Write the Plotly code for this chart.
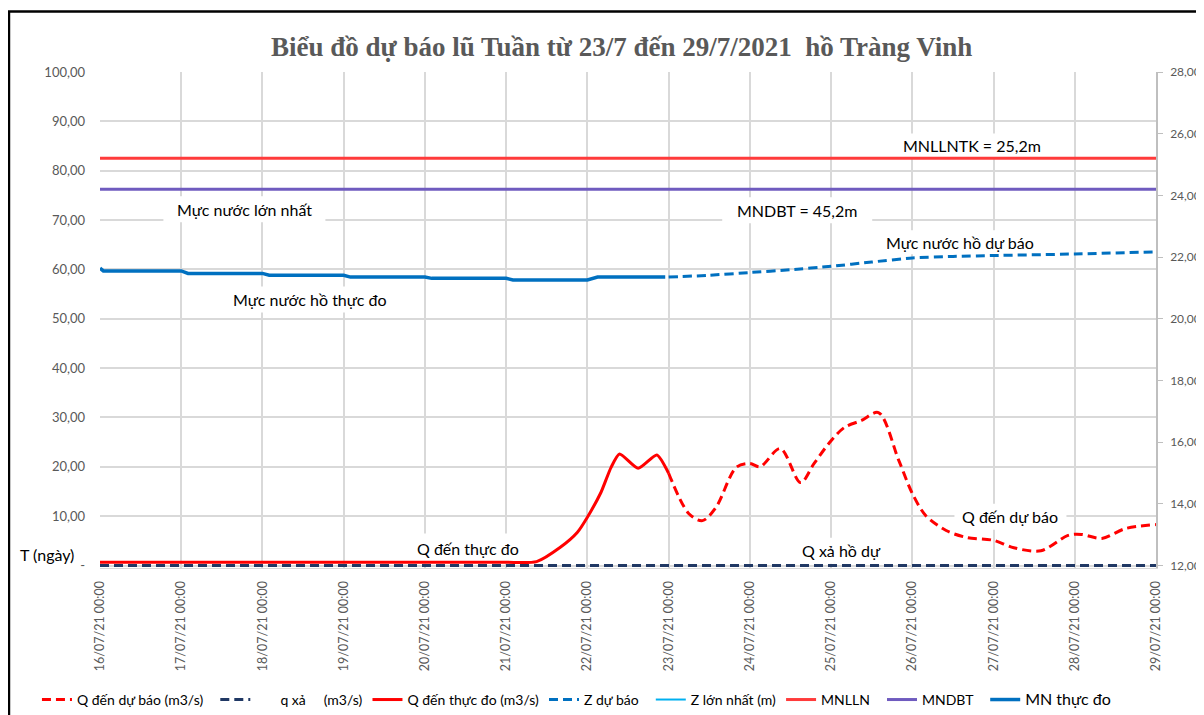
import plotly.graph_objects as go

# ---------------- data ----------------
# Q đến thực đo (m3/s) - left axis
q_obs_time = ["2021-07-16 00:00", "2021-07-17 00:00", "2021-07-18 00:00", "2021-07-19 00:00",
              "2021-07-20 00:00", "2021-07-21 00:00", "2021-07-21 09:00", "2021-07-21 16:00",
              "2021-07-21 21:00", "2021-07-22 00:00", "2021-07-22 04:00", "2021-07-22 07:00",
              "2021-07-22 09:30", "2021-07-22 15:00", "2021-07-22 20:30", "2021-07-23 00:00"]
q_obs_val = [0.65, 0.65, 0.65, 0.65, 0.65, 0.65, 0.8, 3.7, 6.7, 9.8, 14.8, 19.9,
             22.6, 19.7, 22.4, 18.7]

# Q đến dự báo (m3/s) - left axis
q_fc_time = ["2021-07-23 00:00", "2021-07-23 06:00", "2021-07-23 10:00", "2021-07-23 14:00",
             "2021-07-23 20:00", "2021-07-24 00:00", "2021-07-24 03:00", "2021-07-24 09:00",
             "2021-07-24 15:00", "2021-07-24 19:00", "2021-07-25 00:00", "2021-07-25 04:00",
             "2021-07-25 09:00", "2021-07-25 14:00", "2021-07-25 20:00", "2021-07-26 00:00",
             "2021-07-26 04:00", "2021-07-26 10:00", "2021-07-26 16:00", "2021-07-27 00:00",
             "2021-07-27 06:00", "2021-07-27 14:00", "2021-07-27 22:00", "2021-07-28 02:00",
             "2021-07-28 08:00", "2021-07-28 15:00", "2021-07-29 00:00"]
q_fc_val = [18.7, 10.5, 9.1, 11.8, 19.9, 20.7, 20.0, 23.7, 16.8, 20.7, 25.3, 28.0,
            29.4, 31.0, 21.3, 14.6, 10.1, 7.1, 5.7, 5.1, 3.6, 3.0, 6.1, 6.3, 5.5, 7.5, 8.3]

# q xả (m3/s) - left axis
q_out_time = ["2021-07-16 00:00", "2021-07-29 00:00"]
q_out_val = [0.0, 0.0]

# MN thực đo (m) - right axis
z_obs_time = ["2021-07-16 00:00", "2021-07-16 01:00", "2021-07-17 00:00", "2021-07-17 02:00",
              "2021-07-18 00:00", "2021-07-18 02:00", "2021-07-19 00:00", "2021-07-19 02:00",
              "2021-07-20 00:00", "2021-07-20 02:00", "2021-07-21 00:00", "2021-07-21 02:00",
              "2021-07-22 00:00", "2021-07-22 03:00", "2021-07-22 23:00"]
z_obs_val = [21.64, 21.55, 21.55, 21.47, 21.47, 21.41, 21.41, 21.35, 21.35, 21.31,
             21.31, 21.26, 21.26, 21.35, 21.35]

# Z dự báo (m) - right axis
z_fc_time = ["2021-07-23 00:00", "2021-07-23 12:00", "2021-07-24 00:00", "2021-07-24 12:00",
             "2021-07-25 00:00", "2021-07-25 12:00", "2021-07-26 00:00", "2021-07-26 12:00",
             "2021-07-27 00:00", "2021-07-28 00:00", "2021-07-29 00:00"]
z_fc_val = [21.35, 21.41, 21.50, 21.59, 21.70, 21.84, 21.97, 22.02, 22.05, 22.10, 22.17]

# Z lớn nhất (m) - no values shown in the chart
z_max_time = [None]
z_max_val = [None]

# Reference levels (m) - right axis
lvl_time = ["2021-07-16 00:00", "2021-07-29 00:00"]
mnlln_val = [25.2, 25.2]
mndbt_val = [24.2, 24.2]

left_ticks = [0, 10, 20, 30, 40, 50, 60, 70, 80, 90, 100]
left_ticktext = ["-", "10,00", "20,00", "30,00", "40,00", "50,00", "60,00", "70,00", "80,00", "90,00", "100,00"]
right_ticks = [12, 14, 16, 18, 20, 22, 24, 26, 28]
right_ticktext = ["12,00", "14,00", "16,00", "18,00", "20,00", "22,00", "24,00", "26,00", "28,00"]

title_text = "Biểu đồ dự báo lũ Tuần từ 23/7 đến 29/7/2021\u00a0\u00a0hồ Tràng Vinh"

FONT = "Lato, 'Noto Sans', sans-serif"
RED = "#FF0000"
BLUE = "#0070C0"
NAVY = "#203864"
NB = "\u00a0"

fig = go.Figure()

fig.add_trace(go.Scatter(x=q_fc_time, y=q_fc_val, name="Q đến dự báo (m3/s)" + NB * 2, mode="lines",
                         line=dict(color=RED, width=3, dash="9px,5px", shape="spline", smoothing=0.9)))
fig.add_trace(go.Scatter(x=q_out_time, y=q_out_val, name=NB * 7 + "q xả" + NB * 5 + "(m3/s)", mode="lines",
                         line=dict(color=NAVY, width=3, dash="9px,5px")))
fig.add_trace(go.Scatter(x=q_obs_time, y=q_obs_val, name="Q đến thực đo (m3/s)", mode="lines",
                         line=dict(color=RED, width=3, shape="spline", smoothing=0.6)))
fig.add_trace(go.Scatter(x=z_fc_time, y=z_fc_val, name="Z dự báo" + NB * 2, mode="lines", yaxis="y2",
                         line=dict(color=BLUE, width=3, dash="9px,5px", shape="spline", smoothing=0.6)))
fig.add_trace(go.Scatter(x=z_max_time, y=z_max_val, name="Z lớn nhất (m)", mode="lines", yaxis="y2",
                         line=dict(color="#00B0F0", width=2)))
fig.add_trace(go.Scatter(x=lvl_time, y=mnlln_val, name="MNLLN" + NB * 2, mode="lines", yaxis="y2",
                         line=dict(color="#FF3B3B", width=3)))
fig.add_trace(go.Scatter(x=lvl_time, y=mndbt_val, name="MNDBT" + NB * 2, mode="lines", yaxis="y2",
                         line=dict(color="#6F5BBF", width=3)))
fig.add_trace(go.Scatter(x=z_obs_time, y=z_obs_val, name="<span style='font-size:16px'>MN thực đo</span>",
                         mode="lines", yaxis="y2",
                         line=dict(color=BLUE, width=3.5)))

# (text, x, y, box width px, box height px)
annots = [
    ("MNLLNTK = 25,2m", "2021-07-26 17:30", 85.1, 150, 24),
    ("MNDBT = 45,2m", "2021-07-24 14:00", 72.0, 150, 26),
    ("Mực nước lớn nhất", "2021-07-17 18:40", 72.2, 162, 26),
    ("Mực nước hồ dự báo", "2021-07-26 14:00", 65.5, 160, 24),
    ("Mực nước hồ thực đo", "2021-07-18 14:10", 53.9, 165, 26),
    ("Q đến thực đo", "2021-07-20 12:45", 3.45, 118, 30),
    ("Q xả hồ dự", "2021-07-25 03:10", 3.0, 95, 26),
    ("Q đến dự báo", "2021-07-27 05:00", 9.9, 112, 26),
]
for text, ax_x, ax_y, w, h in annots:
    fig.add_shape(type="rect", xref="x", yref="y", xsizemode="pixel", ysizemode="pixel",
                  xanchor=ax_x, yanchor=ax_y, x0=-w / 2, x1=w / 2, y0=-h / 2, y1=h / 2,
                  fillcolor="#FFFFFF", line=dict(width=0), layer="between")
    fig.add_annotation(text=text, x=ax_x, y=ax_y, xref="x", yref="y", showarrow=False,
                       font=dict(family=FONT, size=16, color="#000000"),
                       xanchor="center", yanchor="middle")

fig.add_annotation(text="T (ngày)", x=-0.050, y=2.2, xref="paper", yref="y", showarrow=False,
                   font=dict(family=FONT, size=16, color="#000000"), xanchor="center", yanchor="middle")

# outer chart frame
fig.add_shape(type="rect", xref="paper", yref="paper", x0=-0.0862, x1=1.08, y0=-0.35, y1=1.122,
              line=dict(color="#000000", width=2.5), fillcolor="rgba(0,0,0,0)", layer="above")

# the page places the figure 8px from the top-left corner, so the size is reduced by 8px
fig.update_layout(
    width=1196, height=707,
    margin=dict(l=92, r=48, t=64, b=147, autoexpand=False),
    paper_bgcolor="#FFFFFF", plot_bgcolor="#FFFFFF",
    title=dict(text="<b>" + title_text + "</b>", x=0.494, xref="paper", xanchor="center",
               y=1 - 39 / 707, yref="container", yanchor="middle",
               font=dict(family="'Liberation Serif', 'Times New Roman', serif", size=27, color="#595959")),
    xaxis=dict(type="date", range=["2021-07-16", "2021-07-29"], dtick=86400000,
               tick0="2021-07-16", tickformat="%d/%m/%y %H:%M", tickangle=-90,
               showgrid=True, gridcolor="#D9D9D9", gridwidth=1.5, automargin=False,
               showline=True, linecolor="#D9D9D9", zeroline=False,
               ticklabelstandoff=7,
               tickfont=dict(family=FONT, size=12.5, color="#595959")),
    yaxis=dict(range=[-0.5, 100], tickvals=left_ticks, ticktext=left_ticktext, automargin=False,
               showgrid=True, gridcolor="#D9D9D9", gridwidth=1.5, zeroline=False,
               showline=False, ticklabelstandoff=14,
               tickfont=dict(family=FONT, size=13, color="#595959")),
    yaxis2=dict(range=[12 - 0.5 * 0.16, 28], tickvals=right_ticks, ticktext=right_ticktext,
                overlaying="y", side="right", showgrid=False, zeroline=False, automargin=False,
                showline=True, linecolor="#BFBFBF", linewidth=1.5,
                ticks="outside", ticklen=5, tickcolor="#BFBFBF", ticklabelstandoff=5,
                tickfont=dict(family=FONT, size=12, color="#595959")),
    legend=dict(orientation="h", x=-0.0597, xanchor="left", y=-0.266, yanchor="middle",
                font=dict(family=FONT, size=14, color="#000000"), bgcolor="rgba(0,0,0,0)",
                traceorder="normal", itemwidth=30),
    showlegend=True,
)

fig.write_html("out.html")
